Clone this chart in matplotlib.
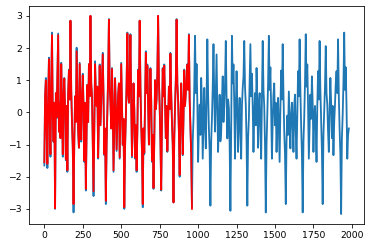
import matplotlib
matplotlib.use('Agg')
import matplotlib.pyplot as plt
import numpy as np

step = 5

# full series (blue), read every 5 samples, one row per 100 samples
actual = [
    -1.65, 0.5, 1.07, -0.6, -1.73, 0.4, 1.7, -0.2, -1.38, 0.9, 2.48, -0.1, -0.92, 0.3, -3.0, 0.6, -0.18, 1.1, 2.45, -0.6,
    0.3, -0.8, 1.54, 0.2, -1.38, 0.5, 1.07, 0.1, -1.49, 0.2, -1.85, 0.6, 1.33, 0.4, 2.85, 0.7, -0.34, -1.1, -3.11, -0.9,
    0.5, -0.3, 2.01, 0.6, -0.6, -1.1, 1.54, 0.3, -0.91, 0.4, 1.2, 0.2, -1.54, 0.3, -2.43, -0.6, 0.86, -0.3, 1.5, 0.5,
    3.0, 0.9, 0.5, -0.9, -2.6, -0.4, 1.59, 0.6, 0.2, 0.8, -1.44, -0.2, 1.49, -0.4, 0.3, 0.9, 1.85, 0.5, -1.33, -0.5,
    -2.85, -1.0, 0.03, 1.1, 2.9, 0.8, 0.34, -0.5, 1.38, 0.2, -1.85, -0.4, 1.07, 0.2, -1.2, -0.3, 0.55, 0.9, -1.44, 0.1,
    1.54, 0.3, -1.02, -0.2, -3.0, -1.1, -0.2, 0.9, 2.48, 0.6, 0.3, 1.1, 2.43, 0.3, -1.4, -0.3, 0.9, 0.1, -1.44, -0.4,
    -1.85, -0.6, 1.33, 0.5, 2.85, 0.8, -0.4, -1.2, -2.95, -0.5, -1.3, 0.4, 1.9, 0.6, 1.49, 0.2, -1.0, 0.3, 1.38, 0.4,
    -1.54, -0.7, -2.38, -0.9, 1.0, 0.1, 0.4, 1.2, 3.0, 1.0, 0.2, -0.9, -2.43, -0.3, 1.38, 0.5, 1.49, 0.3, -0.8, 0.2,
    -1.23, -0.3, 0.8, 0.1, 1.85, 0.6, -0.3, -1.0, -2.8, -0.8, 0.2, 1.0, 2.9, 0.9, 0.4, -0.6, -2.0, -0.4, 0.9, 0.2,
    -1.33, -0.2, 1.33, 0.2, 0.6, 1.0, 1.5, 0.7, 2.43, 0.4, -0.5, -1.3, -2.95, -0.9, -0.2, 0.8, 2.38, 0.6, 1.5, 0.3,
    -1.54, -0.5, 0.24, -0.7, 1.07, 0.3, -1.44, -0.3, 0.76, -0.4, -1.12, 0.4, 2.27, 0.6, -0.5, -1.2, -2.9, -0.9, -0.2, 0.8,
    2.12, 0.5, -0.6, 0.6, 1.8, 0.1, -1.23, -0.2, 0.55, -0.9, -0.6, 0.4, 1.12, -0.3, 0.2, 0.9, 2.22, 0.5, -0.81, 0.4,
    0.13, -1.0, -3.06, -0.6, 2.38, 0.9, 1.49, 0.3, -1.44, 0.1, 1.28, 0.2, -1.23, -0.2, 0.45, -0.6, -1.44, 0.2, 0.76, 1.1,
    2.22, 0.8, 0.24, -0.9, -2.9, -0.8, -0.2, 0.9, 2.12, 0.5, 1.2, 0.2, -1.23, -0.1, 0.6, -0.4, 1.38, 0.3, -1.1, 0.2,
    0.6, -0.5, -1.44, 0.3, 2.22, 0.7, 0.2, -1.0, -3.11, -1.0, -0.1, 0.9, 2.38, 0.7, 1.4, 0.1, -1.44, -0.3, 0.55, 0.9,
    -0.4, 0.3, -1.23, -0.2, 0.45, -0.5, -1.54, 0.1, 1.3, 0.4, 2.12, 0.6, -0.6, -1.3, -2.85, -0.9, -0.1, -0.7, 0.65, -0.2,
    -1.12, -0.1, 0.3, -0.4, -1.23, 0.2, 0.55, -0.6, -1.44, -0.1, 1.28, 0.5, 2.27, 0.7, -0.4, -1.3, -3.11, -0.9, -0.15, 0.9,
    2.43, 0.8, 1.49, 0.2, -1.44, -0.4, 0.55, -0.2, 1.12, 0.3, -1.23, -0.1, 0.2, -0.5, -1.54, 0.2, 1.28, 0.4, 2.22, 0.7,
    -0.3, -1.2, -2.85, -0.7, 0.1, 0.8, 2.06, 0.6, 0.24, -0.6, -1.23, 0.1, 1.07, 0.3, -0.8, 0.2, -1.33, -0.3, 0.24, 0.9,
    1.28, 0.6, 2.27, 0.5, -0.5, -1.3, -3.16, -0.8, -0.1, 0.9, 2.48, 0.7, 1.4, 0.2, -1.44, -0.7, -0.5,
]

# fitted part (red), first half only
fitted = [
    -1.55, 0.5, 1.0, -0.6, -1.6, 0.4, 1.65, -0.2, -1.3, 0.9, 2.4, -0.1, -0.9, 0.3, -2.98, 0.6, -0.15, 1.1, 2.4, -0.6,
    0.3, -0.8, 1.5, 0.2, -1.3, 0.5, 1.05, 0.1, -1.45, 0.2, -1.8, 0.6, 1.3, 0.4, 2.85, 0.7, -0.3, -1.1, -2.85, -0.9,
    0.5, -0.3, 1.9, 0.6, -0.55, -1.1, 1.5, 0.3, -0.85, 0.4, 1.15, 0.2, -1.5, 0.3, -2.38, -0.6, 0.85, -0.3, 1.5, 0.5,
    3.0, 0.9, 0.5, -0.9, -2.45, -0.4, 1.5, 0.6, 0.2, 0.8, -1.4, -0.2, 1.45, -0.4, 0.3, 0.9, 1.8, 0.5, -1.3, -0.5,
    -2.75, -1.0, 0.05, 1.1, 2.88, 0.8, 0.3, -0.5, 1.35, 0.2, -1.8, -0.4, 1.05, 0.2, -1.15, -0.3, 0.55, 0.9, -1.4, 0.1,
    1.5, 0.3, -1.0, -0.2, -2.95, -1.1, -0.2, 0.9, 2.45, 0.6, 0.3, 1.1, 2.4, 0.3, -1.35, -0.3, 0.9, 0.1, -1.4, -0.4,
    -1.8, -0.6, 1.3, 0.5, 2.85, 0.8, -0.4, -1.2, -2.85, -0.5, -1.25, 0.4, 1.85, 0.6, 1.45, 0.2, -1.0, 0.3, 1.35, 0.4,
    -1.5, -0.7, -2.35, -0.9, 1.0, 0.1, 0.4, 1.2, 3.0, 1.0, 0.2, -0.9, -2.4, -0.3, 1.35, 0.5, 1.45, 0.3, -0.8, 0.2,
    -1.2, -0.3, 0.8, 0.1, 1.82, 0.6, -0.3, -1.0, -2.8, -0.8, 0.2, 1.0, 2.88, 0.9, 0.4, -0.6, -1.95, -0.4, 0.9, 0.2,
    -1.3, -0.2, 1.3, 0.2, 0.6, 1.0, 1.48, 0.7, 2.4, 0.4, -0.5, -1.3, -3.0,
]

x_actual = np.arange(len(actual)) * step
x_fitted = np.arange(len(fitted)) * step

plt.rcParams['font.size'] = 9.2

fig = plt.figure(figsize=(373 / 72, 248 / 72), dpi=72)
ax = fig.add_axes([0.078, 0.097, 0.898, 0.879])

ax.plot(x_actual, actual, lw=1.8)
ax.plot(x_fitted, fitted, c='r', lw=1.8)

fig.savefig('out.png', dpi=72)
